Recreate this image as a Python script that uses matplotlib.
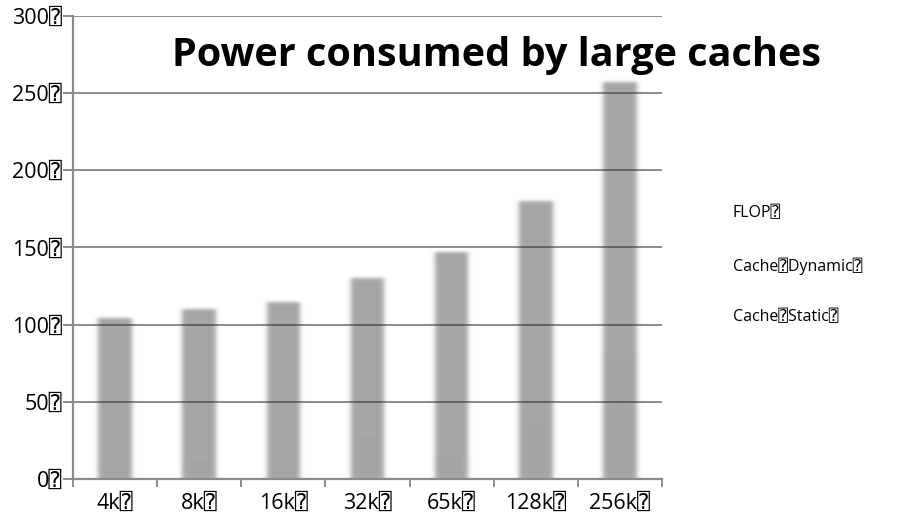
import numpy as np
import matplotlib
matplotlib.use("Agg")
import matplotlib.pyplot as plt

plt.rcParams["font.family"] = ["Open Sans", "DejaVu Sans", "DejaVu Sans Mono"]

# Data
sizes = ["4k⍰", "8k⍰", "16k⍰", "32k⍰", "65k⍰", "128k⍰", "256k⍰"]
flop = [3, 3, 3, 3, 3, 3, 3]
cache_dynamic = [2, 9, 1, 25, 12, 32, 75]
cache_static = [99, 98, 111, 102, 132, 145, 179]
series_names = ["FLOP⍰", "Cache⍰Dynamic⍰", "Cache⍰Static⍰"]
yticks = [0, 50, 100, 150, 200, 250, 300]


def _kernel(sigma, pad):
    x = np.arange(-pad, pad + 1)
    k = np.exp(-0.5 * (x / sigma) ** 2)
    return k / k.sum()


def _soften(img, sx, sy):
    pad = int(max(sx, sy) * 3) + 1
    a = np.pad(img, ((pad, pad), (pad, pad), (0, 0)))
    # work in premultiplied space so edges fade without darkening
    a[..., :3] *= a[..., 3:4]
    orig = a.copy()
    if sy > 0:
        ky = _kernel(sy, pad)
        a = np.apply_along_axis(lambda m: np.convolve(m, ky, mode="same"), 0, a)
        # only the upper edge gets the vertical fade
        half = a.shape[0] // 2
        a[half:] = orig[half:]
    kx = _kernel(sx, pad)
    a = np.apply_along_axis(lambda m: np.convolve(m, kx, mode="same"), 1, a)
    alpha = a[..., 3:4]
    a[..., :3] = np.where(alpha > 1e-6, a[..., :3] / np.maximum(alpha, 1e-6), 0)
    return np.clip(a, 0, 1), -pad, -pad


def soft_sides(img, dpi):
    return _soften(img, 2.4, 0)


def soft_top(img, dpi):
    return _soften(img, 2.4, 1.6)


fig = plt.figure(figsize=(9.07, 5.29), dpi=100)
ax = fig.add_axes([0.0805, 0.0945, 0.6494, 0.8753])

x = np.arange(len(sizes))
bottom = np.zeros(len(sizes))
colors = ["#a8a8a8", "#a5a5a5", "#a6a6a6"]
filters = [soft_sides, soft_sides, soft_top]
for vals, col, flt in zip([flop, cache_dynamic, cache_static], colors, filters):
    bars = ax.bar(x, vals, bottom=bottom, width=0.4, color=col,
                  linewidth=0, zorder=1)
    for b in bars:
        b.set_agg_filter(flt)
        b.set_rasterized(True)
    bottom += np.array(vals)

ax.set_xlim(-0.5, len(sizes) - 0.5)
ax.set_ylim(0, 300)

# gridlines drawn over the bars
for v in yticks[1:]:
    ax.axhline(v, color="#2e2e2e", alpha=0.55, lw=1.4, zorder=3)

ax.set_yticks(yticks)
ax.set_yticklabels([f"{v}⍰" for v in yticks], fontsize=15.5)
ax.set_xticks(np.arange(len(sizes) + 1) - 0.5)
ax.set_xticklabels([])
ax.set_xticks(x, minor=True)
ax.set_xticklabels(sizes, minor=True, fontsize=15.5)
ax.tick_params(axis="x", which="minor", length=0, pad=10)
ax.tick_params(axis="x", which="major", length=6, width=1.4, color="#8a8a8a")
ax.tick_params(axis="y", length=7, width=1.4, color="#8a8a8a", pad=1)

for sp in ["top", "right"]:
    ax.spines[sp].set_visible(False)
for sp in ["left", "bottom"]:
    ax.spines[sp].set_color("#8a8a8a")
    ax.spines[sp].set_linewidth(1.6)
    ax.spines[sp].set_zorder(4)

fig.text(0.547, 0.896, "Power consumed by large caches", fontsize=28.5,
         fontweight="bold", ha="center", va="center")

for name, ypix in zip(series_names, [213, 266, 317]):
    fig.text(733 / 907, 1 - ypix / 529, name, fontsize=11.5,
             ha="left", va="center")

fig.savefig("out.png", dpi=100)
